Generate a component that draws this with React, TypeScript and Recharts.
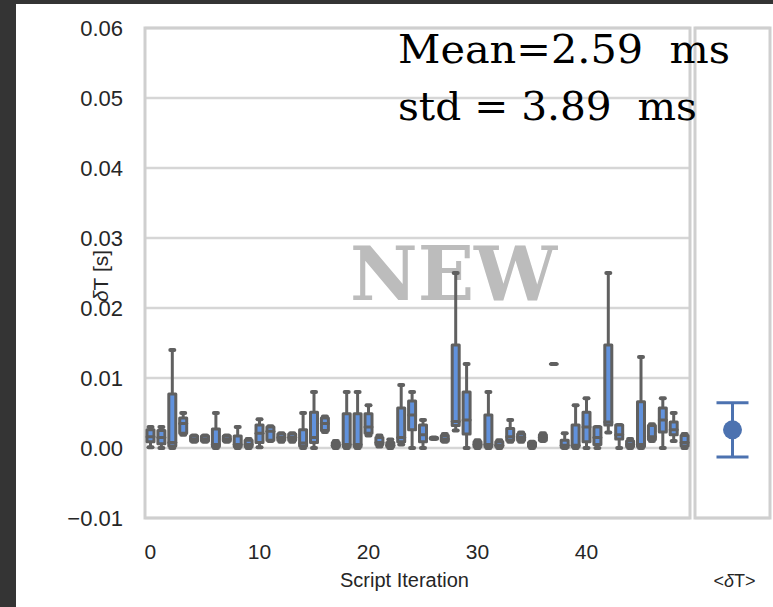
import React from "react";
import {
  ComposedChart,
  Bar,
  Scatter,
  ErrorBar,
  XAxis,
  YAxis,
  CartesianGrid,
  Label,
  ReferenceArea,
} from "recharts";

// per-iteration timing spread, seconds
const iterations = [
  0, 1, 2, 3, 4, 5, 6, 7, 8, 9, 10, 11, 12, 13, 14, 15, 16, 17, 18, 19, 20, 21, 22, 23, 24,
  25, 26, 27, 28, 29, 30, 31, 32, 33, 34, 35, 36, 37, 38, 39, 40, 41, 42, 43, 44, 45, 46, 47, 48, 49,
];
const whiskerLow = [
  0.0001, 0.0, 0.0, 0.0019, 0.0009, 0.0009, 0.0, 0.0009, 0.0, 0.0,
  0.0001, 0.001, 0.0009, 0.0009, 0.0, 0.0, 0.0023, 0.0, 0.0, 0.0,
  0.0018, 0.0002, 0.0, 0.0005, 0.0, 0.0, 0.0013, 0.0009, 0.0025, 0.0,
  0.0, 0.0, 0.0, 0.0009, 0.0009, 0.0, 0.001, 0.012, 0.0, 0.0,
  0.0, 0.0, 0.0022, 0.0, 0.0, 0.0, 0.001, 0.0, 0.001, 0.0,
];
const quartile1 = [
  0.0009, 0.0006, 0.0003, 0.0021, 0.001, 0.001, 0.0002, 0.001, 0.0002, 0.0002,
  0.0008, 0.0011, 0.0011, 0.0011, 0.0003, 0.0008, 0.0025, 0.0002, 0.0002, 0.0002,
  0.0021, 0.0005, 0.0002, 0.0009, 0.0026, 0.0009, 0.0013, 0.001, 0.0032, 0.002,
  0.0002, 0.0002, 0.0002, 0.0011, 0.0011, 0.0002, 0.0011, 0.012, 0.0001, 0.0002,
  0.0009, 0.0005, 0.0033, 0.0013, 0.0002, 0.0002, 0.0012, 0.0023, 0.0019, 0.0003,
];
const medians = [
  0.0016, 0.0015, 0.0008, 0.0035, 0.0013, 0.0013, 0.0005, 0.0013, 0.0005, 0.0005,
  0.0021, 0.0024, 0.0015, 0.0015, 0.0007, 0.0015, 0.0035, 0.0004, 0.0005, 0.0005,
  0.003, 0.0008, 0.0004, 0.0015, 0.0047, 0.0019, 0.0014, 0.0013, 0.0038, 0.004,
  0.0005, 0.0005, 0.0004, 0.0016, 0.0015, 0.0004, 0.0015, 0.012, 0.0004, 0.0004,
  0.003, 0.0015, 0.0037, 0.0019, 0.0005, 0.0005, 0.0016, 0.004, 0.0026, 0.0008,
];
const quartile3 = [
  0.0026, 0.0025, 0.0077, 0.0043, 0.0017, 0.0017, 0.0027, 0.0017, 0.0017, 0.0011,
  0.0033, 0.003, 0.002, 0.002, 0.0026, 0.0051, 0.0043, 0.0008, 0.0049, 0.0049,
  0.0049, 0.0015, 0.0008, 0.0057, 0.0067, 0.0033, 0.0015, 0.0018, 0.0147, 0.008,
  0.0009, 0.0047, 0.0009, 0.0028, 0.002, 0.0008, 0.0019, 0.012, 0.0011, 0.0033,
  0.0051, 0.003, 0.0147, 0.0033, 0.001, 0.0066, 0.0032, 0.0057, 0.0037, 0.0018,
];
const whiskerHigh = [
  0.003, 0.003, 0.014, 0.005, 0.0018, 0.0018, 0.005, 0.0018, 0.003, 0.0013,
  0.0041, 0.0031, 0.0021, 0.0021, 0.005, 0.008, 0.0045, 0.001, 0.008, 0.008,
  0.0061, 0.0018, 0.0012, 0.009, 0.008, 0.004, 0.0015, 0.002, 0.025, 0.012,
  0.0011, 0.008, 0.0011, 0.004, 0.0022, 0.0009, 0.0021, 0.012, 0.0021, 0.0061,
  0.0071, 0.003, 0.025, 0.0033, 0.0013, 0.013, 0.0034, 0.0071, 0.005, 0.002,
];

// summary panel
const meanLabels = ["<δT>"];
const meanValues = [0.00259];
const stdValues = [0.00389];

const yTicks = [-0.01, 0, 0.01, 0.02, 0.03, 0.04, 0.05, 0.06];
const yMin = -0.01;
const yMax = 0.06;

const boxData = iterations.map((it, i) => ({
  it,
  min: whiskerLow[i],
  q1: quartile1[i],
  med: medians[i],
  q3: quartile3[i],
  max: whiskerHigh[i],
}));
const meanData = meanLabels.map((name, i) => ({ name, mean: meanValues[i], err: stdValues[i] }));

const SANS = "'Liberation Sans', Arial, sans-serif";
const SERIF = "'DejaVu Serif', serif";
const EDGE = "#606060";
const BOX_FILL = "#6192dd";
const DOT = "#4c72b0";
const GRID = "#d6d6d6";
const FRAME = "#cfcfcf";
const TEXT = "#262626";

const fmtY = (v: number) => (v < 0 ? "\u2212" + Math.abs(v).toFixed(2) : v.toFixed(2));

// one box + whiskers, positions taken from the bar's [min, max] range
const BoxShape = (props: any) => {
  const { x, y, width, height, payload } = props;
  if (x == null || y == null || !payload) return null;
  const top = Math.min(y, y + height);
  const bottom = Math.max(y, y + height);
  const span = payload.max - payload.min;
  const py = (v: number) => (span > 0 ? bottom - ((v - payload.min) / span) * (bottom - top) : top);
  const cx = x + width / 2;
  const half = 3.5;
  const yLo = py(payload.min);
  const yHi = py(payload.max);
  const yQ1 = py(payload.q1);
  const yQ3 = py(payload.q3);
  const yMed = py(payload.med);
  return (
    <g>
      <line x1={cx} x2={cx} y1={yLo} y2={yQ1} stroke={EDGE} strokeWidth={3} />
      <line x1={cx} x2={cx} y1={yQ3} y2={yHi} stroke={EDGE} strokeWidth={3} />
      <line x1={cx - 2} x2={cx + 2} y1={yLo} y2={yLo} stroke={EDGE} strokeWidth={4} strokeLinecap="round" />
      <line x1={cx - 2} x2={cx + 2} y1={yHi} y2={yHi} stroke={EDGE} strokeWidth={4} strokeLinecap="round" />
      {yQ1 - yQ3 > 0 && (
        <rect
          x={cx - half}
          y={yQ3}
          width={half * 2}
          height={yQ1 - yQ3}
          fill={BOX_FILL}
          stroke={EDGE}
          strokeWidth={3}
          strokeLinejoin="round"
        />
      )}
      <line x1={cx - half} x2={cx + half} y1={yMed} y2={yMed} stroke={EDGE} strokeWidth={3} strokeLinecap="round" />
    </g>
  );
};

const YTitle = (props: any) => {
  const vb = props.viewBox || {};
  const cx = vb.x + vb.width - 45;
  const cy = vb.y + vb.height / 2 + 3;
  return (
    <text
      x={cx}
      y={cy}
      transform={`rotate(-90, ${cx}, ${cy})`}
      textAnchor="middle"
      dominantBaseline="central"
      fill={TEXT}
      fontSize={21}
      fontFamily={SANS}
    >
      <tspan fontStyle="italic">δ</tspan>T [s]
    </text>
  );
};

const XTitle = (props: any) => {
  const vb = props.viewBox || {};
  const cx = vb.x + vb.width / 2 - 13;
  const by = vb.y + vb.height;
  return (
    <text x={cx} y={by} textAnchor="middle" fill={TEXT} fontSize={20} fontFamily={SANS}>
      Script Iteration
    </text>
  );
};

const MeanTitle = (props: any) => {
  const vb = props.viewBox || {};
  const cx = vb.x + vb.width / 2 + 2;
  const by = vb.y + vb.height;
  return (
    <text x={cx} y={by} textAnchor="middle" fill={TEXT} fontSize={18} fontFamily={SANS}>
      {"<"}
      <tspan fontStyle="italic">δ</tspan>
      {"T>"}
    </text>
  );
};

const Dot = (props: any) => <circle cx={props.cx} cy={props.cy} r={9.5} fill={DOT} />;

export default function App() {
  return (
    <div
      style={{
        position: "absolute",
        left: 0,
        top: 0,
        width: 773,
        height: 607,
        background: "#343434",
        overflow: "hidden",
        fontFamily: SANS,
      }}
    >
      <div style={{ position: "absolute", left: 16, top: 4, right: 0, bottom: 0, background: "#ffffff" }} />

      <svg width={773} height={607} style={{ position: "absolute", left: 0, top: 0 }}>
        <text x={350} y={300} fontFamily={SERIF} fontWeight="bold" fontSize={74} fill="#bcbcbc">
          NEW
        </text>
      </svg>

      <div style={{ position: "absolute", left: 0, top: 0 }}>
        <ComposedChart
          width={700}
          height={607}
          data={boxData}
          margin={{ top: 28, right: 10, bottom: 20, left: 0 }}
          barCategoryGap={0}
        >
          <CartesianGrid vertical={false} stroke={GRID} strokeWidth={2.5} />
          <ReferenceArea y1={yMin} y2={yMax} fill="none" stroke={FRAME} strokeWidth={3} ifOverflow="visible" />
          <XAxis
            dataKey="it"
            type="category"
            interval={9}
            height={69}
            tickLine={false}
            tickSize={0}
            tickMargin={26}
            axisLine={false}
            tick={{ fill: TEXT, fontSize: 21, fontFamily: SANS }}
          >
            <Label content={XTitle} />
          </XAxis>
          <YAxis
            domain={[yMin, yMax]}
            ticks={yTicks}
            width={145}
            tickLine={false}
            tickSize={0}
            tickMargin={22}
            axisLine={false}
            tickFormatter={fmtY}
            tick={{ fill: TEXT, fontSize: 22, fontFamily: SANS }}
            label={{ content: YTitle }}
          />
          <Bar dataKey={(d: any) => [d.min, d.max]} shape={BoxShape} isAnimationActive={false} />
        </ComposedChart>
      </div>

      <div style={{ position: "absolute", left: 690, top: 0 }}>
        <ComposedChart
          width={83}
          height={607}
          data={meanData}
          margin={{ top: 28, right: 3, bottom: 20, left: 5 }}
        >
          <CartesianGrid vertical={false} stroke={GRID} strokeWidth={2.5} />
          <ReferenceArea y1={yMin} y2={yMax} fill="none" stroke={FRAME} strokeWidth={3} ifOverflow="visible" />
          <XAxis dataKey="name" type="category" height={69} tick={false} tickLine={false} axisLine={false}>
            <Label content={MeanTitle} />
          </XAxis>
          <YAxis domain={[yMin, yMax]} ticks={yTicks} width={0} tick={false} tickLine={false} axisLine={false} />
          <Scatter dataKey="mean" shape={Dot} isAnimationActive={false}>
            <ErrorBar dataKey="err" direction="y" width={16} strokeWidth={3} stroke={DOT} />
          </Scatter>
        </ComposedChart>
      </div>

      <svg width={773} height={607} style={{ position: "absolute", left: 0, top: 0, pointerEvents: "none" }}>
        <text
          x={398}
          y={63}
          fontFamily={SERIF}
          fontSize={40}
          fill="#000"
          xmlSpace="preserve"
          textLength={332}
          lengthAdjust="spacingAndGlyphs"
        >
          {"Mean=2.59  ms"}
        </text>
        <text
          x={398}
          y={120}
          fontFamily={SERIF}
          fontSize={40}
          fill="#000"
          xmlSpace="preserve"
          textLength={299}
          lengthAdjust="spacingAndGlyphs"
        >
          {"std = 3.89  ms"}
        </text>
      </svg>
    </div>
  );
}
